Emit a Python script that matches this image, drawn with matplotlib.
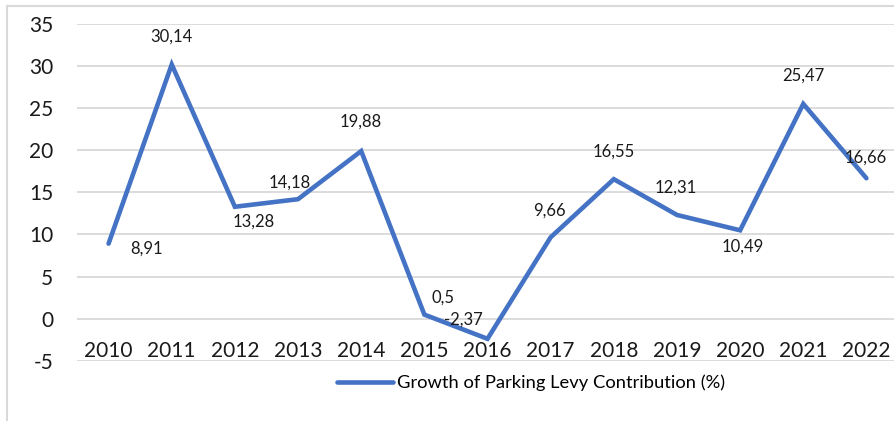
import matplotlib.pyplot as plt
from matplotlib.lines import Line2D

plt.rcParams["font.family"] = ["Lato", "DejaVu Sans"]

years = ["2010", "2011", "2012", "2013", "2014", "2015", "2016",
         "2017", "2018", "2019", "2020", "2021", "2022"]
growth = [8.91, 30.14, 13.28, 14.18, 19.88, 0.5, -2.37,
          9.66, 16.55, 12.31, 10.49, 25.47, 16.66]
y_ticks = [-5, 0, 5, 10, 15, 20, 25, 30, 35]

# label offsets from each point, in pixels
label_offsets = [(38, -5), (0, 28), (19, -15), (-8, 17), (0, 29), (19, 17), (-24, 19),
                 (-1, 27), (0, 28), (-1, 27), (3, -16), (0, 28), (-1, 21)]

W, H = 895, 421
fig = plt.figure(figsize=(W / 100, H / 100), dpi=100)

# axes in pixel terms: x from 77 to 898, y from 23.5 (35) to 361 (-5)
ax = fig.add_axes([77 / W, (H - 361) / H, 821 / W, (361 - 23.5) / H])

line_color = "#4472C4"
grid_color = "#D9D9D9"

x = list(range(len(years)))
ax.plot(x, growth, color=line_color, lw=3.3, solid_capstyle="round",
        solid_joinstyle="miter", label="Growth of Parking Levy Contribution (%)", zorder=3)

for xi, v, (dx, dy) in zip(x, growth, label_offsets):
    ax.annotate(f"{v:g}".replace(".", ","), (xi, v), xytext=(dx, dy),
                textcoords="offset pixels", ha="center", va="center",
                fontsize=12, color="#1a1a1a", zorder=4)

ax.set_xlim(-0.5, len(years) - 0.5)
ax.set_ylim(-5, 35)
ax.set_yticks(y_ticks)
ax.set_yticklabels([str(t) for t in y_ticks])
ax.set_xticks(x)
ax.set_xticklabels(years)

for t in y_ticks:
    ax.axhline(t, color=grid_color, lw=1.3, zorder=1)

for s in ax.spines.values():
    s.set_visible(False)
ax.spines["bottom"].set_position(("data", 0))

ax.tick_params(axis="y", length=0, pad=17, labelsize=15, labelcolor="#1a1a1a")
ax.tick_params(axis="x", length=0, pad=16, labelsize=15, labelcolor="#1a1a1a")

# outer chart border (left and top edges)
fig.add_artist(Line2D([7 / W, 7 / W], [0, (H - 6) / H], color=grid_color, lw=1.5))
fig.add_artist(Line2D([7 / W, 1], [(H - 6) / H, (H - 6) / H], color=grid_color, lw=1.5))

fig.legend(loc="center left", bbox_to_anchor=(337 / W, (H - 383) / H),
           frameon=False, fontsize=13.2, borderpad=0, borderaxespad=0,
           handlelength=3.05, handletextpad=0.25)

fig.savefig("out.png", dpi=100)
